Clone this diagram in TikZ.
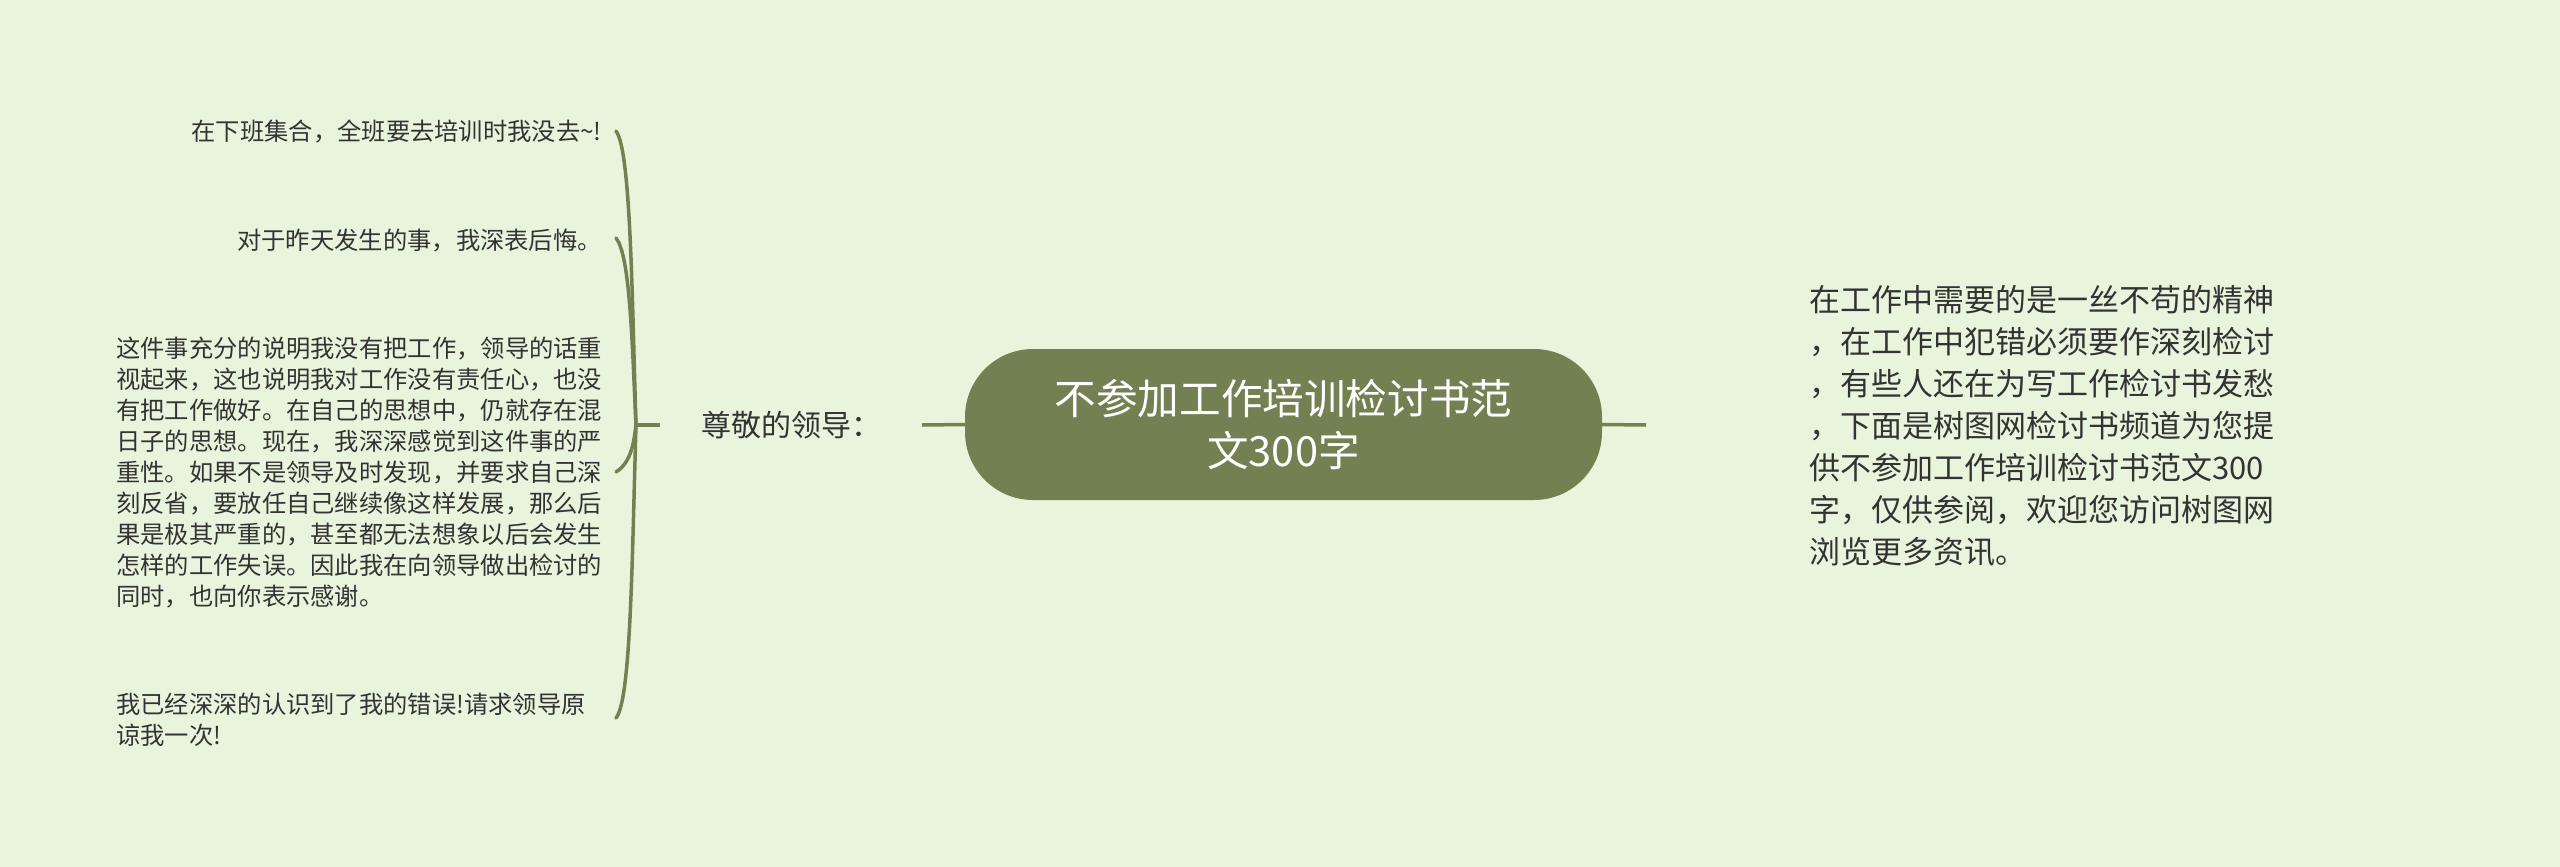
\documentclass[tikz,border=0pt]{standalone}
\usepackage{fontspec}
\setmainfont{Noto Sans CJK SC}
\definecolor{bgc}{HTML}{E8F5DC}
\definecolor{olive}{HTML}{738152}
\definecolor{txt}{HTML}{333333}
\tikzset{
  conn/.style={draw=olive, line width=3.5pt},
  lt/.style={inner sep=0pt, text=txt, font=\fontsize{24.3}{31}\selectfont},
  rt/.style={inner sep=0pt, text=txt, align=left, font=\fontsize{31}{41.9}\selectfont},
  labstyle/.style={inner sep=0pt, text=txt, minimum width=262pt, minimum height=40pt, font=\fontsize{30}{36}\selectfont},
  ctrstyle/.style={fill=olive, rounded corners=68pt, minimum width=637pt, minimum height=151pt, inner sep=0pt, text=white, align=center, font=\fontsize{41.6}{52}\selectfont}
}
\begin{document}
\begin{tikzpicture}[x=1pt, y=-1pt]
\fill[bgc] (0,0) rectangle (2560,867);
\useasboundingbox (0,0) rectangle (2560,867);

\node[ctrstyle] (ctr) at (1283.5,424.5) {不参加工作培训检讨书范\\文300字};
\node[labstyle] (lab) at (791,425) {尊敬的领导：};

\node[lt, anchor=east] (t1) at (602,131) {在下班集合，全班要去培训时我没去\textasciitilde!};
\node[lt, anchor=east] (t2) at (602,240) {对于昨天发生的事，我深表后悔。};
\node[lt, anchor=west, align=left] (t3) at (116,473) {这件事充分的说明我没有把工作，领导的话重\\视起来，这也说明我对工作没有责任心，也没\\有把工作做好。在自己的思想中，仍就存在混\\日子的思想。现在，我深深感觉到这件事的严\\重性。如果不是领导及时发现，并要求自己深\\刻反省，要放任自己继续像这样发展，那么后\\果是极其严重的，甚至都无法想象以后会发生\\怎样的工作失误。因此我在向领导做出检讨的\\同时，也向你表示感谢。};
\node[lt, anchor=west, align=left] (t4) at (116,720) {我已经深深的认识到了我的错误!请求领导原\\谅我一次!};

\node[rt, anchor=west] (rtx) at (1809,426) {在工作中需要的是一丝不苟的精神\\，在工作中犯错必须要作深刻检讨\\，有些人还在为写工作检讨书发愁\\，下面是树图网检讨书频道为您提\\供不参加工作培训检讨书范文300\\字，仅供参阅，欢迎您访问树图网\\浏览更多资讯。};

\coordinate (J) at (636,425);
\coordinate (e1) at (616,131);
\coordinate (e2) at (616,238);
\coordinate (e3) at (616,472);
\coordinate (e4) at (616,718);
\coordinate (rin) at (1646,425);

\draw[conn] (ctr.west) -- (lab.east);
\draw[conn] (ctr.east) -- (rin);
\draw[conn] (lab.west) -- (J);
\draw[conn, line cap=round] (J) .. controls (632,300) and (631,150) .. (e1);
\draw[conn, line cap=round] (J) .. controls (632,340) and (630,255) .. (e2);
\draw[conn, line cap=round] (J) .. controls (634,440) and (632,462) .. (e3);
\draw[conn, line cap=round] (J) .. controls (632,560) and (631,700) .. (e4);
\end{tikzpicture}
\end{document}
